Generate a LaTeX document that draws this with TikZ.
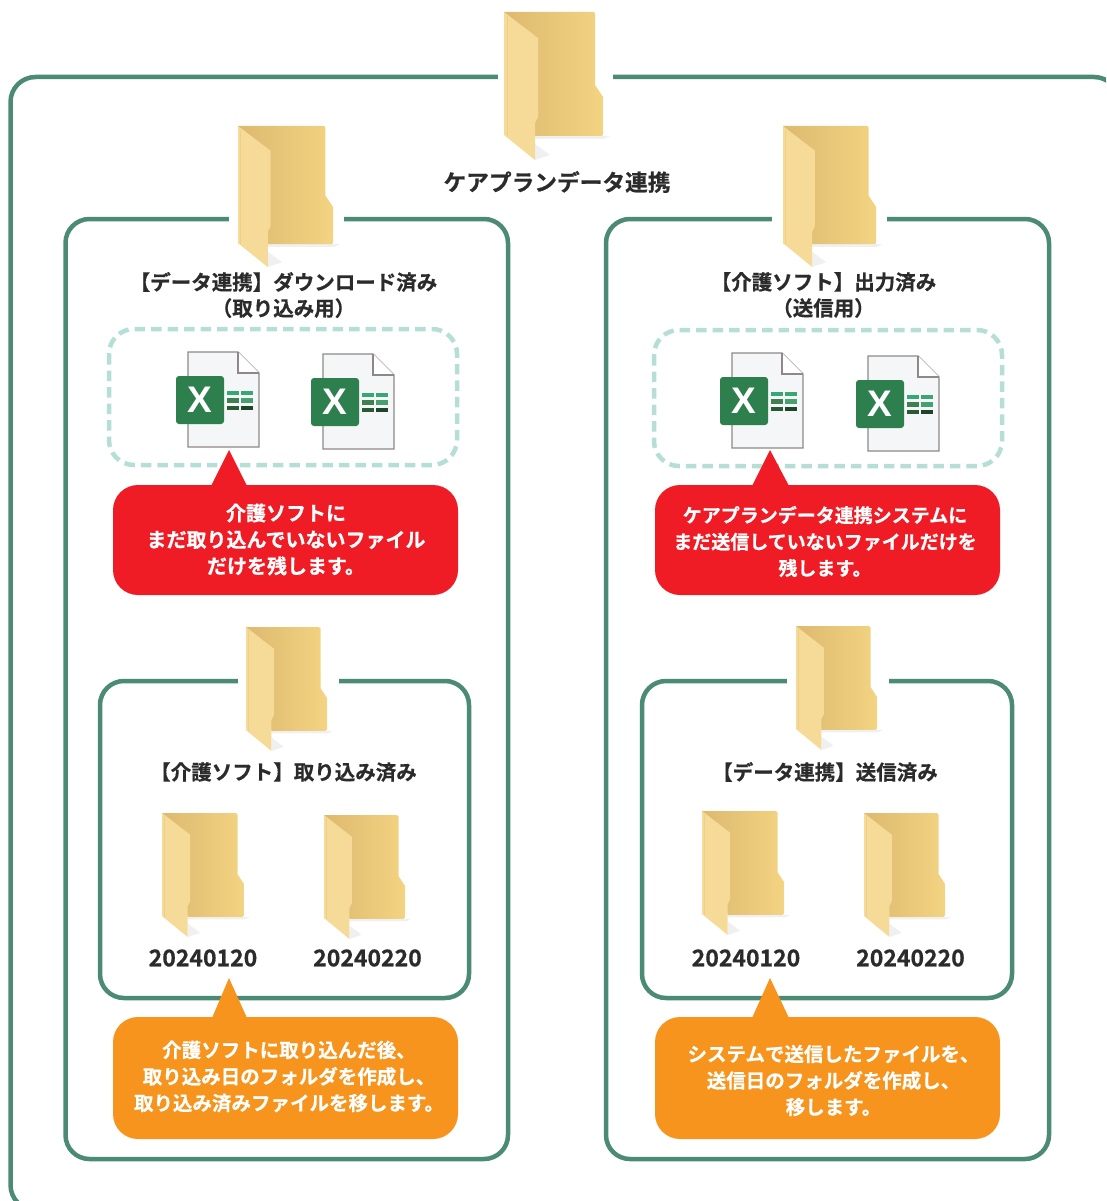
\documentclass[tikz,border=0pt]{standalone}
\usepackage{fontspec}
\setmainfont{Noto Sans CJK JP}[BoldFont={Noto Sans CJK JP Bold},BoldFeatures={FakeBold=0.6}]
\newfontfamily\xfont{Liberation Sans Bold}
\usetikzlibrary{calc}
\definecolor{frameGreen}{HTML}{4B8B73}
\definecolor{dashTeal}{HTML}{B5DED6}
\definecolor{calloutRed}{HTML}{EF1C25}
\definecolor{calloutOrange}{HTML}{F7941D}
\definecolor{folderA}{HTML}{DDB96F}
\definecolor{folderB}{HTML}{F3D482}
\definecolor{folderFront}{HTML}{F5DB97}
\definecolor{folderEdge}{HTML}{EDCF86}
\definecolor{inkDark}{HTML}{2B2B2B}
\definecolor{xlGreen}{HTML}{2E7F4E}
\definecolor{docEdge}{HTML}{8E8888}
\definecolor{docFill}{HTML}{F4F6F7}
\definecolor{gridA}{HTML}{35A878}
\definecolor{gridB}{HTML}{3BA574}
\definecolor{gridC}{HTML}{3F7F52}
\definecolor{gridD}{HTML}{46A06F}
\definecolor{gridE}{HTML}{2A5A35}
\definecolor{gridF}{HTML}{1E4429}
\tikzset{
  frameBox/.style={draw=frameGreen,line width=4.5pt,rounded corners=24pt},
  dashBox/.style={draw=dashTeal,line width=4.5pt,rounded corners=25pt,dash pattern=on 10.5pt off 6pt},
  gapMask/.style={fill=white,draw=none},
  labelText/.style={font=\bfseries\fontsize{20.5}{26}\selectfont,text=inkDark,align=center,inner sep=0pt},
  titleText/.style={font=\bfseries\fontsize{22.7}{26}\selectfont,text=inkDark,align=center,inner sep=0pt},
  numText/.style={font=\bfseries\fontsize{23}{26}\selectfont,text=inkDark,align=center,inner sep=0pt},
  calloutText/.style={font=\bfseries\fontsize{19.5}{26.5}\selectfont,text=white,align=center,inner sep=0pt},
}
% folder: left, top, width, height
\newcommand{\myfolder}[4]{%
 \begin{scope}[shift={(#1,#2)},xscale=#3/100,yscale=#4/148]
  \fill[black!6] (31,124) -- (106,124) -- (100,127) -- (31,127) -- cycle;
  \fill[black!6] (31,148) -- (46,143) -- (31,132) -- cycle;
  \shade[left color=folderA,right color=folderB,shading angle=90]
    (0,0) -- (89,0) .. controls (90.5,0) and (91,1) .. (91,2) -- (91,73) -- (99,85) -- (99,122)
    .. controls (99,123.5) and (98,124) .. (97,124) -- (31,124) -- cycle;
  \fill[folderFront] (0,0) -- (34,26) -- (34,105) -- (31,111) -- (31,148) -- (0,123) -- cycle;
  \draw[folderEdge,line width=0.8pt] (3,4) -- (3,124);
 \end{scope}}
% excel icon: badge left, badge top
\newcommand{\myexcel}[2]{%
 \begin{scope}[shift={(#1,#2)}]
  \draw[docEdge,fill=docFill,line width=1.2pt] (12,-24) -- (62,-24) -- (83,-3) -- (83,71) -- (12,71) -- cycle;
  \draw[docEdge,fill=white,line width=1.2pt] (62,-24) -- (62,-3) -- (83,-3);
  \fill[xlGreen,rounded corners=3pt] (0,0) rectangle (48,48);
  \node[font=\xfont\fontsize{37}{37}\selectfont,text=white,inner sep=0pt] at (24,24) {X};
  \fill[gridA] (51,15) rectangle (63,19);
  \fill[gridB] (65,15) rectangle (77,19);
  \fill[gridC] (51,22) rectangle (63,27);
  \fill[gridD] (65,22) rectangle (77,27);
  \fill[gridE] (51,30) rectangle (63,34);
  \fill[gridF] (65,30) rectangle (77,34);
 \end{scope}}
% callout: colour, left, right, top, bottom, tip x, tip y, base left, base right
\newcommand{\mycallout}[9]{%
  \fill[#1] (#6,#7) -- (#8,#4+1) -- (#9,#4+1) -- cycle;
  \fill[#1,rounded corners=25pt] (#2,#4) rectangle (#3,#5);}
\begin{document}
\begin{tikzpicture}[x=1pt,y=-1pt]
\useasboundingbox (0,0) rectangle (1106,1201);
\clip (0,0) rectangle (1106,1201);
% frames
\draw[frameBox,rounded corners=25pt] (10.5,77) rectangle (1119,1210);
\fill[gapMask] (498,60) rectangle (613,95);
\draw[frameBox] (65.5,219) rectangle (508,1159);
\fill[gapMask] (229,205) rectangle (344,235);
\draw[frameBox] (606,219) rectangle (1049,1159);
\fill[gapMask] (772,205) rectangle (887,235);
\draw[frameBox] (100,681) rectangle (469,998);
\fill[gapMask] (238,670) rectangle (339,695);
\draw[frameBox] (642,681) rectangle (1012,998);
\fill[gapMask] (787,670) rectangle (889,695);
% folders
\myfolder{504}{12}{100}{148}
\myfolder{238}{126}{96}{141}
\myfolder{783}{126}{94}{141}
\myfolder{246}{627}{82}{124}
\myfolder{796}{626}{82}{124}
\myfolder{162}{813}{83}{124}
\myfolder{324}{815}{82}{124}
\myfolder{702}{811}{83}{124}
\myfolder{864}{813}{82}{124}
% dashed
\draw[dashBox] (109,329) rectangle (457,465);
\draw[dashBox] (654,330) rectangle (1002,466);
% excel
\myexcel{176}{376}
\myexcel{311}{378}
\myexcel{720}{377}
\myexcel{856}{380}
% callouts
\mycallout{calloutRed}{113}{458}{485}{595}{229}{450}{211}{247}
\mycallout{calloutRed}{655}{1000}{485}{595}{770}{450}{752}{789}
\mycallout{calloutOrange}{113}{458}{1017}{1139}{229}{978}{212}{247}
\mycallout{calloutOrange}{655}{1000}{1017}{1139}{770}{978}{752}{789}
% labels
\node[titleText] (root) at (557,182) {ケアプランデータ連携};
\node[labelText] (dl) at (283.5,295) {【データ連携】ダウンロード済み\\（取り込み用）};
\node[labelText] (out) at (823.5,295) {【介護ソフト】出力済み\\（送信用）};
\node[labelText] (imp) at (283.5,772) {【介護ソフト】取り込み済み};
\node[labelText] (sent) at (825,772) {【データ連携】送信済み};
\node[numText] (n1) at (203,958) {20240120};
\node[numText] (n2) at (367.5,958) {20240220};
\node[numText] (n3) at (746,958) {20240120};
\node[numText] (n4) at (910.5,958) {20240220};
\node[calloutText,font=\bfseries\fontsize{20}{26.5}\selectfont] (c1) at (286,539.5) {介護ソフトに\\まだ取り込んでいないファイル\\だけを残します。};
\node[calloutText,font=\bfseries\fontsize{19}{26.5}\selectfont] (c2) at (825,541.5) {ケアプランデータ連携システムに\\まだ送信していないファイルだけを\\残します。};
\node[calloutText] (c3) at (289,1076.5) {介護ソフトに取り込んだ後、\\取り込み日のフォルダを作成し、\\取り込み済みファイルを移します。};
\node[calloutText] (c4) at (833.5,1080.5) {システムで送信したファイルを、\\送信日のフォルダを作成し、\\移します。};
\end{tikzpicture}
\end{document}
